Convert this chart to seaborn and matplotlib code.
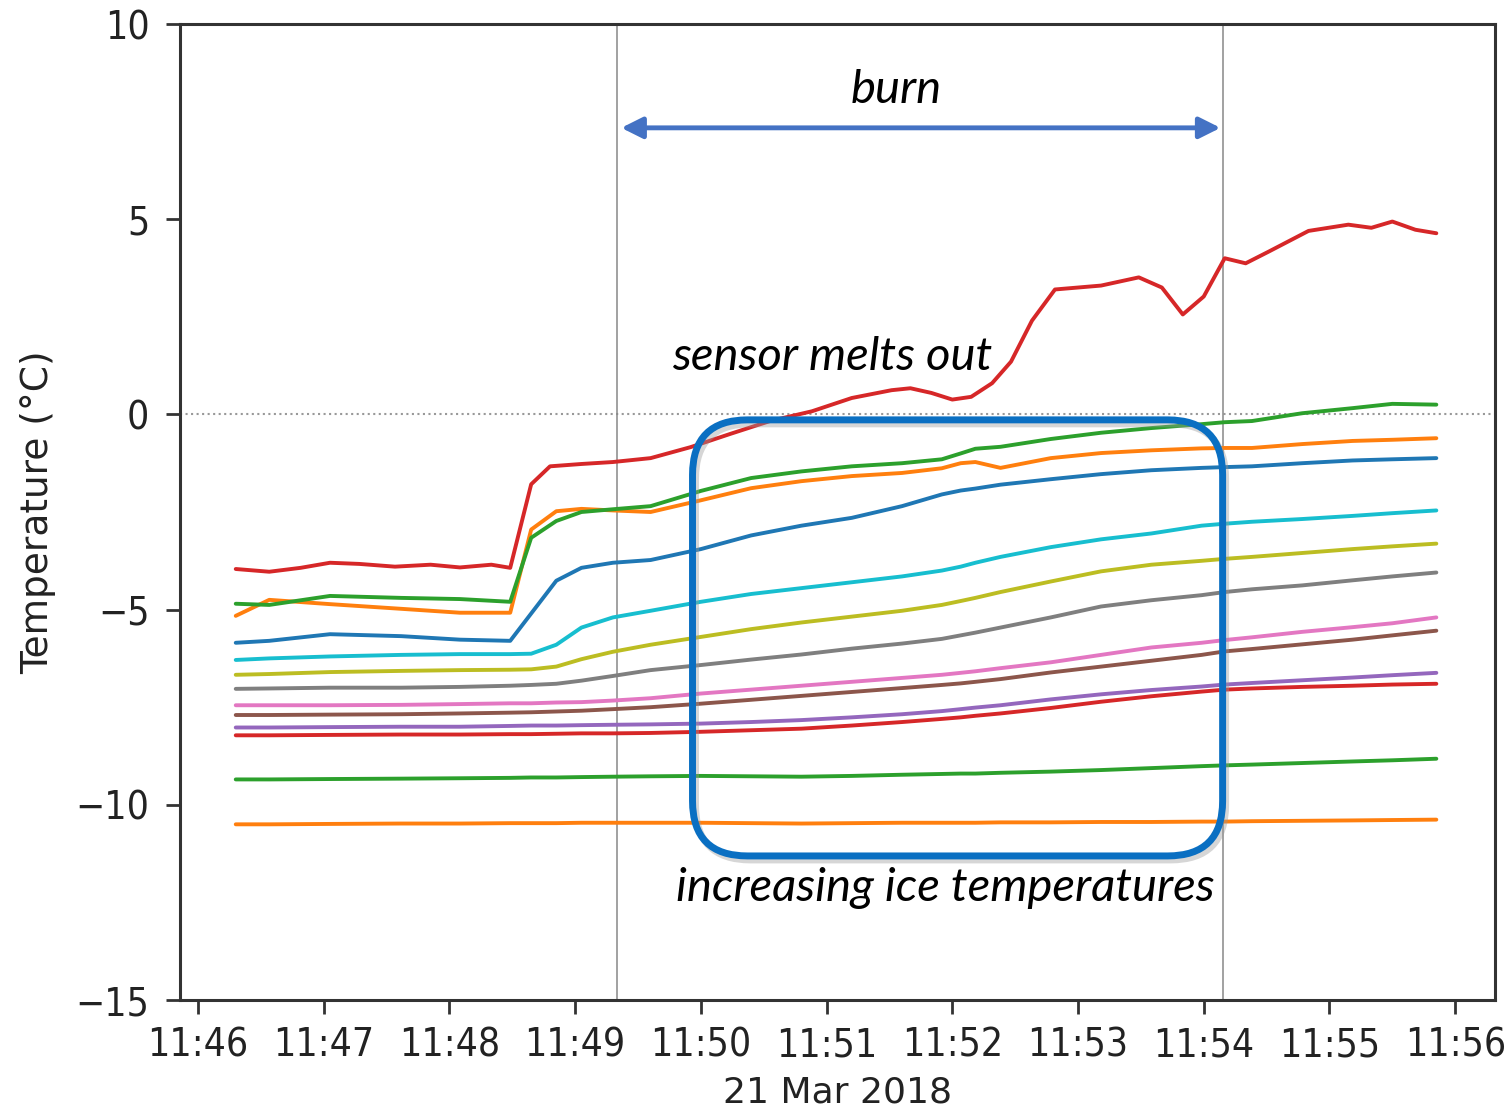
import matplotlib
matplotlib.use("Agg")
import numpy as np
import pandas as pd
import matplotlib.pyplot as plt
import matplotlib.dates as mdates
import seaborn as sns
from matplotlib.patches import FancyBboxPatch, FancyArrowPatch
from matplotlib.transforms import IdentityTransform

# ---------------- data (seconds after 11:46:00 on 21 Mar 2018) ----------------
START = pd.Timestamp("2018-03-21 11:46:00")

t_ice = [18, 34, 63, 97, 125, 149, 159, 171, 183, 198, 216, 240, 264, 288, 312,
         336, 355, 364, 371, 383, 407, 431, 455, 479, 490, 503, 527, 551, 570, 591]

temp_s1 = [-10.50, -10.50, -10.49, -10.48, -10.48, -10.47, -10.47, -10.47, -10.46, -10.46,
           -10.46, -10.46, -10.47, -10.48, -10.47, -10.46, -10.46, -10.46, -10.46, -10.45,
           -10.45, -10.44, -10.44, -10.43, -10.43, -10.42, -10.41, -10.40, -10.39, -10.38]
temp_s2 = [-9.35, -9.35, -9.34, -9.33, -9.32, -9.31, -9.30, -9.30, -9.29, -9.28,
           -9.27, -9.26, -9.27, -9.28, -9.26, -9.23, -9.21, -9.20, -9.20, -9.18,
           -9.15, -9.11, -9.06, -9.01, -8.99, -8.97, -8.93, -8.89, -8.86, -8.82]
temp_s3 = [-8.22, -8.22, -8.21, -8.20, -8.20, -8.19, -8.19, -8.18, -8.17, -8.17,
           -8.16, -8.13, -8.09, -8.05, -7.97, -7.88, -7.80, -7.76, -7.72, -7.66,
           -7.52, -7.36, -7.22, -7.10, -7.05, -7.02, -6.98, -6.95, -6.92, -6.90]
temp_s4 = [-8.02, -8.02, -8.01, -8.00, -8.00, -7.98, -7.97, -7.97, -7.96, -7.95,
           -7.94, -7.92, -7.88, -7.83, -7.76, -7.68, -7.60, -7.55, -7.51, -7.45,
           -7.30, -7.17, -7.06, -6.97, -6.92, -6.88, -6.81, -6.74, -6.68, -6.62]
temp_s5 = [-7.70, -7.70, -7.69, -7.68, -7.66, -7.64, -7.63, -7.61, -7.59, -7.55,
           -7.50, -7.41, -7.31, -7.21, -7.11, -7.01, -6.93, -6.89, -6.85, -6.78,
           -6.61, -6.46, -6.31, -6.16, -6.07, -6.01, -5.89, -5.77, -5.66, -5.54]
temp_s6 = [-7.45, -7.45, -7.45, -7.44, -7.42, -7.40, -7.40, -7.38, -7.37, -7.33,
           -7.27, -7.15, -7.05, -6.95, -6.85, -6.75, -6.67, -6.62, -6.58, -6.50,
           -6.35, -6.16, -5.97, -5.85, -5.78, -5.71, -5.57, -5.45, -5.35, -5.20]
temp_s7 = [-7.03, -7.02, -7.00, -7.00, -6.98, -6.95, -6.93, -6.90, -6.82, -6.70,
           -6.55, -6.42, -6.28, -6.15, -6.00, -5.87, -5.75, -5.66, -5.59, -5.46,
           -5.20, -4.92, -4.76, -4.63, -4.55, -4.48, -4.38, -4.25, -4.15, -4.05]
temp_s8 = [-6.67, -6.65, -6.60, -6.57, -6.55, -6.54, -6.53, -6.46, -6.27, -6.08,
           -5.90, -5.70, -5.50, -5.33, -5.18, -5.03, -4.88, -4.78, -4.70, -4.55,
           -4.28, -4.02, -3.85, -3.75, -3.70, -3.65, -3.55, -3.45, -3.38, -3.31]
temp_s9 = [-6.29, -6.25, -6.20, -6.16, -6.14, -6.14, -6.13, -5.90, -5.46, -5.20,
           -5.03, -4.80, -4.60, -4.45, -4.30, -4.15, -4.00, -3.90, -3.80, -3.65,
           -3.40, -3.20, -3.05, -2.85, -2.80, -2.75, -2.68, -2.60, -2.53, -2.46]
temp_s10 = [-5.85, -5.80, -5.63, -5.68, -5.77, -5.80, -5.10, -4.26, -3.93, -3.80,
            -3.73, -3.45, -3.10, -2.85, -2.65, -2.35, -2.05, -1.95, -1.90, -1.80,
            -1.66, -1.53, -1.43, -1.37, -1.35, -1.33, -1.25, -1.18, -1.15, -1.12]
temp_s11 = [-5.16, -4.75, -4.86, -4.98, -5.08, -5.08, -2.95, -2.48, -2.42, -2.46,
            -2.50, -2.20, -1.89, -1.71, -1.58, -1.50, -1.38, -1.25, -1.22, -1.37,
            -1.12, -0.99, -0.92, -0.87, -0.86, -0.86, -0.76, -0.68, -0.65, -0.61]
temp_s12 = [-4.85, -4.88, -4.65, -4.70, -4.73, -4.80, -3.16, -2.73, -2.50, -2.43,
            -2.35, -1.96, -1.63, -1.46, -1.33, -1.25, -1.15, -1.00, -0.88, -0.83,
            -0.63, -0.47, -0.35, -0.25, -0.20, -0.17, 0.03, 0.16, 0.27, 0.25]

t_melt = [18, 34, 49, 63, 77, 94, 111, 125, 140, 149, 159, 168, 183, 198, 216, 235,
          254, 273, 293, 312, 331, 340, 350, 360, 369, 379, 388, 398, 409, 431, 449,
          460, 470, 480, 490, 500, 511, 530, 549, 560, 570, 581, 591]
temp_s13 = [-3.96, -4.03, -3.93, -3.80, -3.83, -3.90, -3.85, -3.92, -3.85, -3.93,
            -1.79, -1.33, -1.27, -1.22, -1.12, -0.84, -0.50, -0.17, 0.08, 0.42,
            0.62, 0.67, 0.55, 0.38, 0.45, 0.80, 1.35, 2.40, 3.20, 3.30,
            3.51, 3.25, 2.56, 3.02, 4.00, 3.87, 4.17, 4.70, 4.86, 4.78,
            4.94, 4.73, 4.64]

burn_start_s = 200   # 11:49:20
burn_end_s = 489     # 11:54:09
y_ticks = [-15, -10, -5, 0, 5, 10]

sensor_names = [f"T{i}" for i in range(1, 14)]
sensor_temps = [temp_s1, temp_s2, temp_s3, temp_s4, temp_s5, temp_s6, temp_s7,
                temp_s8, temp_s9, temp_s10, temp_s11, temp_s12, temp_s13]
sensor_times = [t_ice] * 12 + [t_melt]

rows = []
for name, ts, vs in zip(sensor_names, sensor_times, sensor_temps):
    assert len(ts) == len(vs), name
    for t, v in zip(ts, vs):
        rows.append({"time": START + pd.Timedelta(seconds=t), "temp": v, "sensor": name})
df = pd.DataFrame(rows)

# ---------------- figure ----------------
sns.set_style("ticks")
plt.rcParams["font.family"] = ["DejaVu Sans"]
W, H = 1512, 1110
fig = plt.figure(figsize=(W / 100, H / 100), dpi=100)
ax = fig.add_axes([180 / W, 1 - 1000 / H, (1495 - 180) / W, (1000 - 24) / H])

tab10 = sns.color_palette("tab10", 10)
palette = [tab10[i % 10] for i in range(1, 14)]

sns.lineplot(data=df, x="time", y="temp", hue="sensor", hue_order=sensor_names,
             palette=palette, linewidth=2.8, legend=False, estimator=None,
             sort=False, ax=ax)

ax.set_xlim(START - pd.Timedelta(seconds=8.6), START + pd.Timedelta(seconds=619))
ax.set_ylim(-15, 10)
ax.set_yticks(y_ticks)
ax.set_yticklabels(["\u221215", "\u221210", "\u22125", "0", "5", "10"])
ax.xaxis.set_major_locator(mdates.MinuteLocator(interval=1))
ax.xaxis.set_major_formatter(mdates.DateFormatter("%H:%M"))

for lbl in ax.get_xticklabels() + ax.get_yticklabels():
    lbl.set_fontsize(28)
    lbl.set_fontstretch("condensed")
    lbl.set_color("#222222")
ax.tick_params(axis="x", direction="out", length=10, width=2, color="#333333", pad=9)
ax.tick_params(axis="y", direction="out", length=10, width=2, color="#333333", pad=12)
for sp in ax.spines.values():
    sp.set_linewidth(2.2)
    sp.set_color("#333333")

ax.set_xlabel("21 Mar 2018", fontsize=26, color="#222222", labelpad=8)
ax.set_ylabel("Temperature (\u00b0C)", fontsize=27, color="#222222", labelpad=14)

# reference lines
ax.axhline(0, color="#999999", lw=1.5, ls=":", zorder=0)
for s in (burn_start_s, burn_end_s):
    ax.axvline(START + pd.Timedelta(seconds=s), color="#888888", lw=1.1, zorder=0)

# burn arrow
arr = FancyArrowPatch((mdates.date2num(START + pd.Timedelta(seconds=burn_start_s + 2)), 7.34),
                      (mdates.date2num(START + pd.Timedelta(seconds=burn_end_s - 1)), 7.34),
                      arrowstyle="<|-|>", mutation_scale=32, lw=3.5, color="#4472C4",
                      shrinkA=0, shrinkB=0)
ax.add_patch(arr)

ann_font = dict(family=["Lato", "DejaVu Sans"], style="italic", color="black")
ax.text(START + pd.Timedelta(seconds=333), 8.3, "burn", fontsize=34, ha="center", va="center", **ann_font)
ax.text(START + pd.Timedelta(seconds=226), 1.47, "sensor melts out", fontsize=34, ha="left", va="center", **ann_font)
ax.text(START + pd.Timedelta(seconds=228), -12.13, "increasing ice temperatures", fontsize=34,
        ha="left", va="center", **ann_font)

# rounded highlight box (drawn in display pixels so the corners stay circular)
x0, y0 = ax.transData.transform((mdates.date2num(START + pd.Timedelta(seconds=236)), -11.31))
x1, y1 = ax.transData.transform((mdates.date2num(START + pd.Timedelta(seconds=489)), -0.14))
shadow = FancyBboxPatch((x0 + 3, y0 - 4), x1 - x0, y1 - y0,
                        boxstyle="round,pad=0,rounding_size=55", transform=IdentityTransform(),
                        lw=5, ec="#999999", fc="none", alpha=0.4, zorder=4)
box = FancyBboxPatch((x0, y0), x1 - x0, y1 - y0,
                     boxstyle="round,pad=0,rounding_size=55", transform=IdentityTransform(),
                     lw=5, ec="#0A6FC2", fc="none", zorder=5)
fig.add_artist(shadow)
fig.add_artist(box)

fig.savefig("out.png", dpi=100)
